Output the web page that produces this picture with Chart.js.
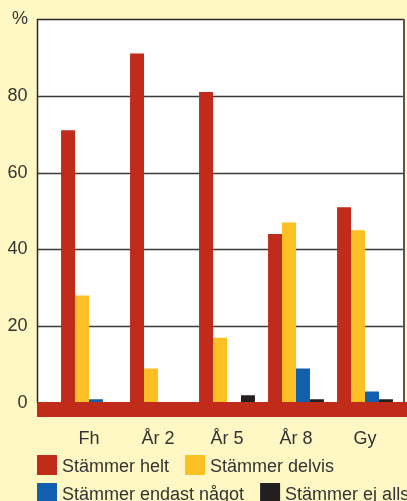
<!DOCTYPE html>
<html>
<head>
<meta charset="utf-8">
<script src="https://cdn.jsdelivr.net/npm/chart.js@4.4.1/dist/chart.umd.min.js"></script>
<style>
  html, body { margin: 0; padding: 0; background: #fff8c4; overflow: hidden; }
  canvas { display: block; }
</style>
</head>
<body>
<canvas id="myChart" width="407" height="501"></canvas>
<script>
// Data (percent)
var categories = ['Fh', 'År 2', 'År 5', 'År 8', 'Gy'];
var seriesNames = ['Stämmer helt', 'Stämmer delvis', 'Stämmer endast något', 'Stämmer ej alls'];
var helt = [71, 91, 81, 44, 51];
var delvis = [28, 9, 17, 47, 45];
var endastNagot = [1, 0, 0, 9, 3];
var ejAlls = [0, 0, 2, 1, 1];
var yTickValues = [0, 20, 40, 60, 80];

var colors = ['#c02b1a', '#fdc024', '#125fae', '#231f20'];
var FONT = '"Liberation Sans", Arial, sans-serif';
var TEXT = '#333333';

// frame, grid, red zero band, legend and "%" label
var framePlugin = {
    id: 'frame',
    beforeDraw: function (chart) {
        var c = chart.ctx, a = chart.chartArea, y = chart.scales.y;
        var left = 37, right = 404;
        c.save();
        c.fillStyle = '#fff8c4';
        c.fillRect(0, 0, chart.width, chart.height);
        c.fillStyle = '#ffffff';
        c.fillRect(left, a.top, right - left, a.bottom - a.top);
        // grid lines
        c.strokeStyle = '#3a3a3a';
        c.lineWidth = 1.3;
        yTickValues.forEach(function (v) {
            if (v === 0) return;
            var py = Math.round(y.getPixelForValue(v)) + 0.5;
            c.beginPath();
            c.moveTo(left, py);
            c.lineTo(right, py);
            c.stroke();
        });
        // border
        c.strokeStyle = '#2a2a2a';
        c.lineWidth = 1.5;
        c.beginPath();
        c.moveTo(left + 0.5, a.bottom);
        c.lineTo(left + 0.5, a.top + 0.5);
        c.lineTo(right, a.top + 0.5);
        c.stroke();
        c.strokeStyle = '#555555';
        c.lineWidth = 2;
        c.beginPath();
        c.moveTo(right, a.top);
        c.lineTo(right, a.bottom);
        c.stroke();
        c.restore();
    },
    afterDatasetsDraw: function (chart) {
        var c = chart.ctx, y = chart.scales.y;
        var zero = y.getPixelForValue(0);
        c.save();
        c.fillStyle = colors[0];
        c.fillRect(37, zero - 1, chart.width - 37, 15);
        c.restore();
    },
    afterDraw: function (chart) {
        var c = chart.ctx;
        c.save();
        c.font = '18px ' + FONT;
        c.fillStyle = TEXT;
        c.textAlign = 'right';
        c.textBaseline = 'middle';
        c.fillText('%', 28, 19);
        // legend, two fixed rows
        var rows = [[0, 1], [2, 3]];
        var rowTop = [455, 483];
        c.textAlign = 'left';
        c.textBaseline = 'alphabetic';
        rows.forEach(function (row, r) {
            var x = 37;
            row.forEach(function (i) {
                c.fillStyle = colors[i];
                c.fillRect(x, rowTop[r], 20, 20);
                c.fillStyle = TEXT;
                c.fillText(seriesNames[i], x + 25, rowTop[r] + 17);
                x += 25 + c.measureText(seriesNames[i]).width + 16;
            });
        });
        c.restore();
    }
};

var ctx = document.getElementById('myChart').getContext('2d');

var myChart = new Chart(ctx, {
    type: 'bar',
    data: {
        labels: categories,
        datasets: [
            { label: seriesNames[0], data: helt, backgroundColor: colors[0] },
            { label: seriesNames[1], data: delvis, backgroundColor: colors[1] },
            { label: seriesNames[2], data: endastNagot, backgroundColor: colors[2] },
            { label: seriesNames[3], data: ejAlls, backgroundColor: colors[3] }
        ]
    },
    options: {
        responsive: false,
        animation: false,
        devicePixelRatio: 1,
        layout: { padding: { top: 19, right: 7.5, left: 0, bottom: 0 } },
        datasets: {
            bar: { categoryPercentage: 0.81, barPercentage: 1.0, borderWidth: 0 }
        },
        plugins: {
            legend: { display: false },
            tooltip: { enabled: false }
        },
        scales: {
            x: {
                grid: { display: false, drawTicks: false },
                border: { display: false },
                ticks: { color: TEXT, font: { family: FONT, size: 18 }, padding: 25, maxRotation: 0 },
                afterFit: function (scale) { scale.height = 98; }
            },
            y: {
                min: 0,
                max: 100,
                grid: { display: false, drawTicks: false },
                border: { display: false },
                ticks: {
                    stepSize: 20,
                    color: TEXT,
                    font: { family: FONT, size: 18 },
                    padding: 27,
                    callback: function (v) { return yTickValues.indexOf(v) >= 0 ? v : ''; }
                },
                afterFit: function (scale) {
                    scale.width = 54.5;
                    scale.paddingTop = 0;
                    scale.paddingBottom = 0;
                }
            }
        }
    },
    plugins: [framePlugin]
});
</script>
</body>
</html>
